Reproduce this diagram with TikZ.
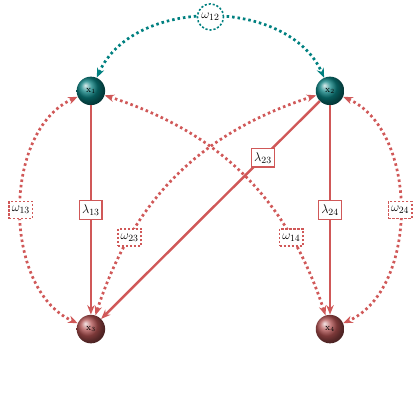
\documentclass[tikz,border=0pt]{standalone}
\usetikzlibrary{arrows.meta,shapes.geometric}
\definecolor{pathred}{HTML}{D05858}
\definecolor{ballteal}{HTML}{0A8080}
\definecolor{ballred}{HTML}{B05050}
\definecolor{linkteal}{HTML}{008080}

\begin{document}
\begin{tikzpicture}[x=1cm,y=1cm,
    factor/.style={circle,shading=ball,ball color=ballteal,minimum size=.95cm,
      inner sep=0pt,font=\small,text=black},
    indicator/.style={circle,shading=ball,ball color=ballred,minimum size=.95cm,
      inner sep=0pt,font=\small,text=black},
    loading/.style={draw=pathred,line width=2.3pt,-{Stealth[length=9pt,width=7pt]}},
    covar/.style={draw=pathred,line width=2.6pt,dash pattern=on 2.4pt off 2.8pt,
      {Stealth[length=9pt,width=7pt]}-{Stealth[length=9pt,width=7pt]}},
    lbox/.style={draw=pathred,fill=white,line width=1.5pt,inner sep=2.5pt,
      minimum height=.62cm,font=\fontsize{13}{15}\selectfont},
    wbox/.style={draw=pathred,fill=white,line width=1.5pt,dash pattern=on 2pt off 1.8pt,
      inner sep=2.5pt,minimum height=.58cm,font=\fontsize{13}{15}\selectfont}]
  \useasboundingbox (0,0) rectangle (14,14);

  \node[factor] (x1) at (3.03,10.97) {$\mathrm{x}_1$};
  \node[factor] (x2) at (11.0,10.97) {$\mathrm{x}_2$};
  \node[indicator] (x3) at (3.03,3.03) {$\mathrm{x}_3$};
  \node[indicator] (x4) at (11.0,3.03) {$\mathrm{x}_4$};

  % factor covariance
  \draw[covar,draw=linkteal]
    (x1) to[bend left=66,looseness=1.0]
    node[circle,draw=linkteal,fill=white,line width=1.5pt,
      dash pattern=on 2pt off 1.8pt,inner sep=0pt,minimum size=.87cm,
      font=\fontsize{13}{15}\selectfont] (w12) {$\omega_{12}$} (x2);

  % residual covariances
  \draw[covar] (x1) to[bend right=66,looseness=.94] node[wbox] (w13) {$\omega_{13}$} (x3);
  \draw[covar] (x2) to[bend left=66,looseness=.94] node[wbox] (w24) {$\omega_{24}$} (x4);
  \draw[covar] (x3) to[bend left=27] node[wbox,pos=.25] (w23) {$\omega_{23}$} (x2);
  \draw[covar] (x4) to[bend right=27] node[wbox,pos=.25] (w14) {$\omega_{14}$} (x1);

  % loadings
  \draw[loading] (x1) -- node[lbox] (l13) {$\lambda_{13}$} (x3);
  \draw[loading] (x2) -- node[lbox] (l24) {$\lambda_{24}$} (x4);
  \draw[loading] (x2) -- node[lbox,pos=.26] (l23) {$\lambda_{23}$} (x3);
\end{tikzpicture}
\end{document}
